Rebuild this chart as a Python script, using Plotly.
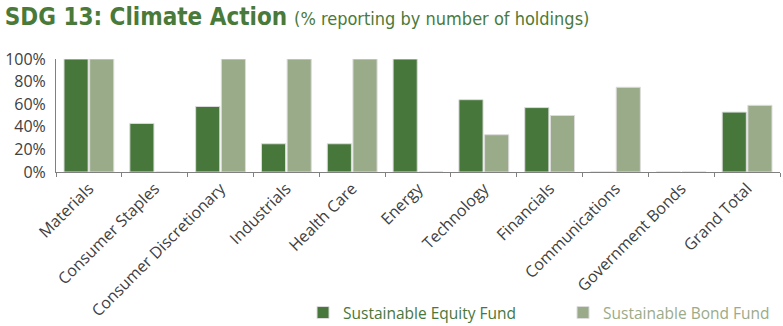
import plotly.graph_objects as go

categories = ["Materials", "Consumer Staples", "Consumer Discretionary", "Industrials",
              "Health Care", "Energy", "Technology", "Financials", "Communications",
              "Government Bonds", "Grand Total"]
equity = [100, 43, 58, 25, 25, 100, 64, 57, 0, 0, 53]
bond = [100, 0, 100, 100, 100, 0, 33, 50, 75, 0, 59]
y_ticks = [0, 20, 40, 60, 80, 100]
y_labels = ["0%", "20%", "40%", "60%", "80%", "100%"]

EQ = "#47773b"
BD = "#9aab89"
FONT = "Open Sans"

fig = go.Figure()
fig.add_trace(go.Bar(x=categories, y=equity, name=f"<span style='color:{EQ}'>Sustainable Equity Fund</span>",
                     marker=dict(color=EQ, line=dict(color="#dcdcdc", width=1))))
fig.add_trace(go.Bar(x=categories, y=bond, name=f"<span style='color:{BD}'>Sustainable Bond Fund</span>",
                     marker=dict(color=BD, line=dict(color="#dcdcdc", width=1))))

fig.update_layout(
    width=783, height=326,
    margin=dict(l=56, r=3, t=59, b=154),
    paper_bgcolor="white", plot_bgcolor="white",
    barmode="group", bargap=0.22, bargroupgap=0.06,
    font=dict(family=FONT, size=15, color="#404040"),
    title=dict(
        text="<b>SDG 13: Climate Action</b> <span style='font-size:18px'>(% reporting by number of holdings)</span>",
        font=dict(family="DejaVu Sans Condensed, Liberation Sans Narrow, sans-serif", size=24, color="#4a7a3a"),
        x=0.006, xanchor="left", xref="container", y=0.975, yanchor="top", yref="container"),
    showlegend=True,
    legend=dict(orientation="h", x=0.387, xanchor="left", xref="container",
                y=0.04, yanchor="middle", yref="container",
                font=dict(size=15.5, family=FONT), entrywidth=215, entrywidthmode="pixels",
                traceorder="normal"),
    xaxis=dict(type="category", tickangle=-45, tickson="boundaries", ticks="outside",
               ticklen=4, tickcolor="#808080", showline=True, linecolor="#808080", linewidth=1,
               automargin=False, tickfont=dict(size=16, color="#404040")),
    yaxis=dict(range=[0, 100], tickvals=y_ticks, ticktext=y_labels, showgrid=False,
               showline=True, linecolor="#808080", linewidth=1, ticks="", zeroline=False,
               automargin=False, ticklabelstandoff=6,
               tickfont=dict(size=16, color="#404040")),
)

fig.write_html("out.html")
